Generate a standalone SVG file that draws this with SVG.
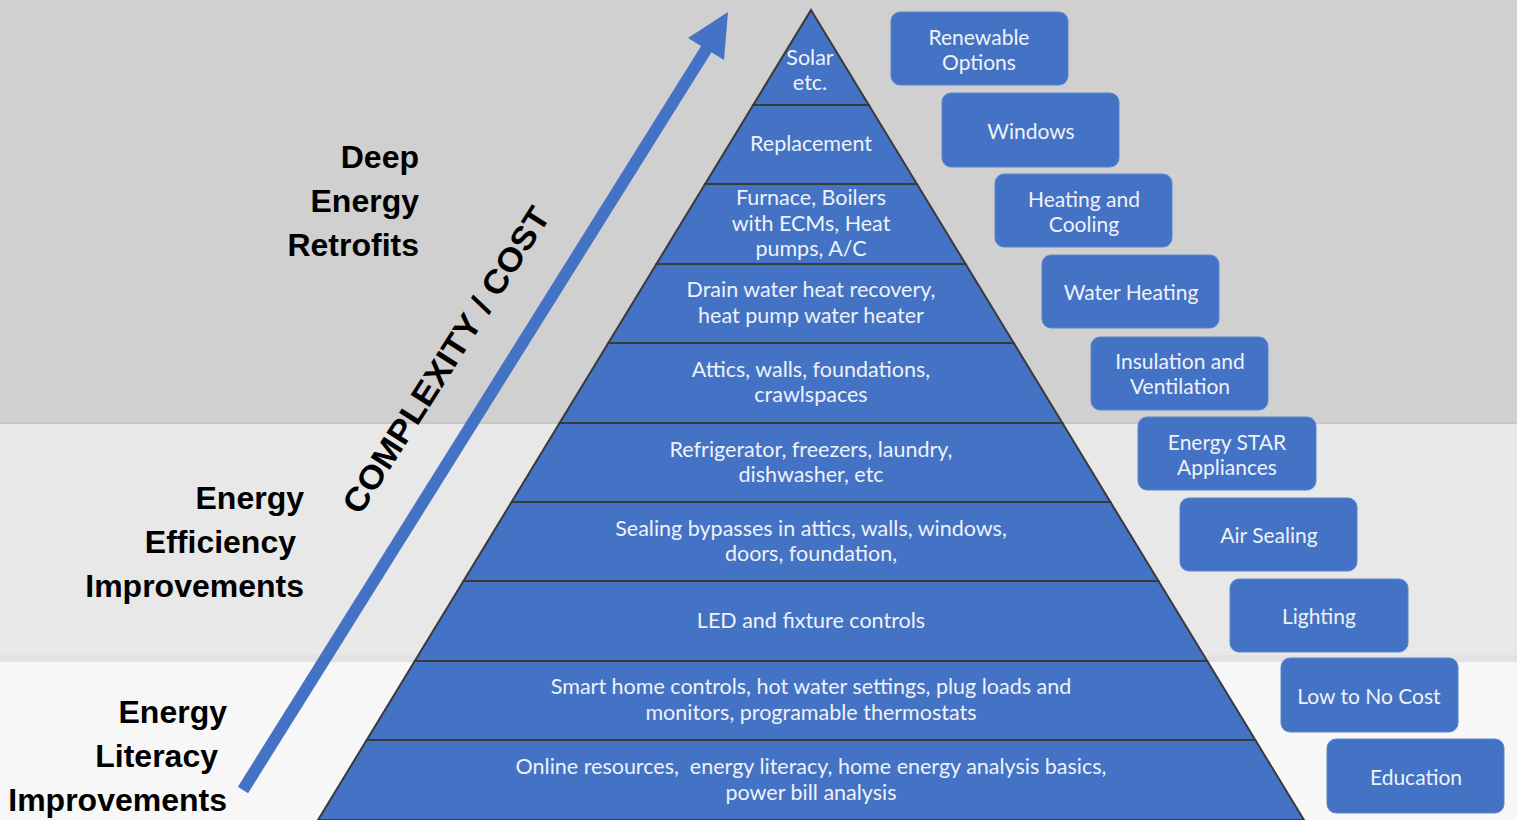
<svg xmlns="http://www.w3.org/2000/svg" width="1517" height="820" viewBox="0 0 1517 820">
<style>
.layer{fill:#4472c4;stroke:#3a3a3a;stroke-width:2;stroke-linejoin:miter}
.pt{font-family:Lato,"Liberation Sans",sans-serif;font-size:21.5px;fill:#eef2fa;text-anchor:middle;dominant-baseline:central;white-space:pre}
.box{fill:#4472c4;stroke:#5b86d0;stroke-width:1}
.bt{font-family:Lato,"Liberation Sans",sans-serif;font-size:21px;fill:#eef2fa;text-anchor:middle;dominant-baseline:central}
.lbl{font-family:"Liberation Sans",Arial,sans-serif;font-weight:bold;font-size:32px;fill:#000;text-anchor:end;dominant-baseline:central}
</style>
<g id="background">
<rect x="0" y="0" width="1517" height="423" fill="#d0d0d0"/>
<rect x="0" y="422" width="1517" height="2" fill="#c6c6c6"/>
<rect x="0" y="424" width="1517" height="232" fill="#e8e8e8"/>
<rect x="0" y="655" width="1517" height="7" fill="#e2e2e2"/>
<rect x="0" y="662" width="1517" height="158" fill="#f7f7f7"/>
</g>
<g id="labels">
<text class="lbl" x="419" y="157">Deep</text>
<text class="lbl" x="419" y="201">Energy</text>
<text class="lbl" x="419" y="245">Retrofits</text>
<text class="lbl" x="304" y="498">Energy</text>
<text class="lbl" x="296" y="542">Efficiency</text>
<text class="lbl" x="304" y="586">Improvements</text>
<text class="lbl" x="227" y="712">Energy</text>
<text class="lbl" x="218" y="756">Literacy</text>
<text class="lbl" x="227" y="800">Improvements</text>
<text id="axis-label" x="0" y="0" transform="translate(446,360) rotate(-57.5)" font-family="'Liberation Sans',Arial,sans-serif" font-weight="bold" font-size="33" fill="#000" text-anchor="middle" dominant-baseline="central" textLength="356" lengthAdjust="spacingAndGlyphs">COMPLEXITY / COST</text>
</g>
<g id="connectors">
<line x1="243" y1="790" x2="712" y2="40" stroke="#4472c4" stroke-width="12"/>
<polygon points="728,12 724,60 688,38" fill="#4472c4"/>
</g>
<g id="layer-1"><polygon class="layer" points="811,10 868.8,105 753.2,105"/>
<text class="pt" x="810" y="57">Solar</text><text class="pt" x="810" y="82">etc.</text></g>
<g id="layer-2"><polygon class="layer" points="753.2,105 868.8,105 916.9,184 705.1,184"/>
<text class="pt" x="811" y="143">Replacement</text></g>
<g id="layer-3"><polygon class="layer" points="705.1,184 916.9,184 965.6,264 656.4,264"/>
<text class="pt" x="811" y="197">Furnace, Boilers</text><text class="pt" x="811" y="223">with ECMs, Heat</text><text class="pt" x="811" y="248">pumps, A/C</text></g>
<g id="layer-4"><polygon class="layer" points="656.4,264 965.6,264 1013.7,343 608.3,343"/>
<text class="pt" x="811" y="289">Drain water heat recovery,</text><text class="pt" x="811" y="315">heat pump water heater</text></g>
<g id="layer-5"><polygon class="layer" points="608.3,343 1013.7,343 1062.4,423 559.6,423"/>
<text class="pt" x="811" y="369">Attics, walls, foundations,</text><text class="pt" x="811" y="394">crawlspaces</text></g>
<g id="layer-6"><polygon class="layer" points="559.6,423 1062.4,423 1110.4,502 511.6,502"/>
<text class="pt" x="811" y="449">Refrigerator, freezers, laundry,</text><text class="pt" x="811" y="474">dishwasher, etc</text></g>
<g id="layer-7"><polygon class="layer" points="511.6,502 1110.4,502 1158.5,581 463.5,581"/>
<text class="pt" x="811" y="528">Sealing bypasses in attics, walls, windows,</text><text class="pt" x="811" y="553">doors, foundation,</text></g>
<g id="layer-8"><polygon class="layer" points="463.5,581 1158.5,581 1207.2,661 414.8,661"/>
<text class="pt" x="811" y="620">LED and fixture controls</text></g>
<g id="layer-9"><polygon class="layer" points="414.8,661 1207.2,661 1255.3,740 366.7,740"/>
<text class="pt" x="811" y="686">Smart home controls, hot water settings, plug loads and</text><text class="pt" x="811" y="712">monitors, programable thermostats</text></g>
<g id="layer-10"><polygon class="layer" points="366.7,740 1255.3,740 1304,820 318,820"/>
<text class="pt" x="811" y="766" xml:space="preserve">Online resources,  energy literacy, home energy analysis basics,</text><text class="pt" x="811" y="792">power bill analysis</text></g>
<g id="box-renewable"><rect class="box" x="891" y="12" width="177" height="73" rx="9"/>
<text class="bt" x="979" y="36">Renewable</text><text class="bt" x="979" y="61">Options</text></g>
<g id="box-windows"><rect class="box" x="942" y="93" width="177" height="74" rx="9"/>
<text class="bt" x="1031" y="130">Windows</text></g>
<g id="box-heating"><rect class="box" x="995" y="174" width="177" height="73" rx="9"/>
<text class="bt" x="1084" y="198">Heating and</text><text class="bt" x="1084" y="223">Cooling</text></g>
<g id="box-water"><rect class="box" x="1042" y="255" width="177" height="73" rx="9"/>
<text class="bt" x="1131" y="291">Water Heating</text></g>
<g id="box-insulation"><rect class="box" x="1091" y="337" width="177" height="73" rx="9"/>
<text class="bt" x="1180" y="360">Insulation and</text><text class="bt" x="1180" y="385">Ventilation</text></g>
<g id="box-energystar"><rect class="box" x="1138" y="417" width="178" height="73" rx="9"/>
<text class="bt" x="1227" y="441">Energy STAR</text><text class="bt" x="1227" y="466">Appliances</text></g>
<g id="box-airsealing"><rect class="box" x="1180" y="498" width="177" height="73" rx="9"/>
<text class="bt" x="1269" y="534">Air Sealing</text></g>
<g id="box-lighting"><rect class="box" x="1230" y="579" width="178" height="73" rx="9"/>
<text class="bt" x="1319" y="615">Lighting</text></g>
<g id="box-lowcost"><rect class="box" x="1281" y="658" width="177" height="74" rx="9"/>
<text class="bt" x="1369" y="695">Low to No Cost</text></g>
<g id="box-education"><rect class="box" x="1327" y="739" width="177" height="74" rx="9"/>
<text class="bt" x="1416" y="776">Education</text></g>
</svg>
